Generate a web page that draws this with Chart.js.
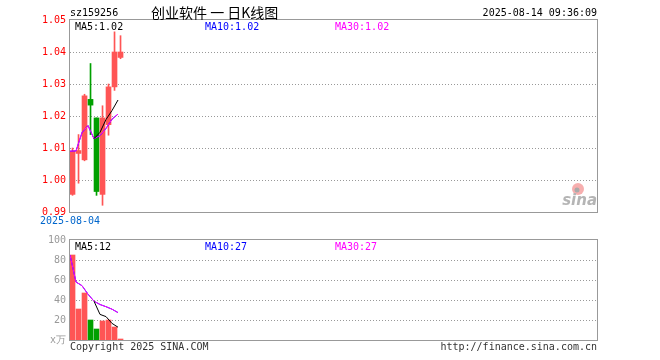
<!DOCTYPE html>
<html>
<head>
<meta charset="utf-8">
<script src="https://cdn.jsdelivr.net/npm/chart.js@4.4.1/dist/chart.umd.min.js"></script>
<style>
body{margin:0;background:#fff}
#wrap{position:relative;width:660px;height:360px}
canvas{position:absolute;left:0}
</style>
</head>
<body>
<div id="wrap">
<canvas id="kline" width="660" height="230" style="top:0"></canvas>
<canvas id="vol" width="660" height="130" style="top:230px"></canvas>
</div>
<script>
const symbol = "sz159256";
const title = "创业软件 一 日K线图";
const stamp = "2025-08-14 09:36:09";

const dates  = ["2025-08-04","2025-08-05","2025-08-06","2025-08-07","2025-08-08","2025-08-11","2025-08-12","2025-08-13","2025-08-14"];
const opens  = [0.9955, 1.0083, 1.0063, 1.0252, 1.0194, 0.9955, 1.0173, 1.0291, 1.0383];
const closes = [1.0090, 1.0092, 1.0263, 1.0234, 0.9964, 1.0194, 1.0291, 1.0400, 1.0400];
const highs  = [1.0100, 1.0142, 1.0268, 1.0364, 1.0194, 1.0232, 1.0300, 1.0463, 1.0451];
const lows   = [0.9952, 0.9990, 1.0060, 1.0142, 0.9952, 0.9921, 1.0140, 1.0280, 1.0379];
const ma5    = [null, null, null, null, 1.0129, 1.0149, 1.0189, 1.0217, 1.0250];
const ma10   = [1.0090, 1.0091, 1.0148, 1.0170, 1.0129, 1.0139, 1.0161, 1.0190, 1.0206];
const ma30   = [1.0090, 1.0091, 1.0148, 1.0170, 1.0129, 1.0139, 1.0161, 1.0190, 1.0206];

const volumes = [85, 31, 47, 20, 11, 19, 20, 13, 1];
const volMa5  = [null, null, null, null, 38.8, 25.6, 23.4, 16.6, 12.8];
const volMa10 = [85, 58, 54.3, 45.8, 38.8, 35.5, 33.3, 30.8, 27.4];
const volMa30 = [85, 58, 54.3, 45.8, 38.8, 35.5, 33.3, 30.8, 27.4];

const priceTicks = [0.99, 1.00, 1.01, 1.02, 1.03, 1.04, 1.05];
const volTicks   = [0, 20, 40, 60, 80, 100];

const RED = "#ff5555", GREEN = "#00a000";
const MONO = "'DejaVu Sans Mono', monospace";
const SLOTS = 527/6;   // 6px per trading day inside the frame
const MID = 0.42;      // candle centre inside its slot

const up = closes.map((c,i)=> c >= opens[i]);
const colors = up.map(u=> u ? RED : GREEN);
const trunc = (v,d)=> (Math.floor(v*Math.pow(10,d)+1e-9)/Math.pow(10,d)).toFixed(d);

// frame + dotted grid drawn under the marks, texts on top
function framePlugin(drawText){
    return {
        id:'frame',
        beforeDatasetsDraw(chart){
            const a = chart.chartArea, c = chart.ctx, ys = chart.scales.y;
            c.save();
            c.strokeStyle = "#999";
            c.lineWidth = 1;
            c.setLineDash([1,2]);
            ys.ticks.slice(1,-1).forEach(t=>{
                const y = Math.round(ys.getPixelForValue(t.value)) + 0.5;
                c.beginPath(); c.moveTo(a.left, y); c.lineTo(a.right, y); c.stroke();
            });
            c.setLineDash([]);
            c.strokeRect(a.left-0.5, a.top-0.5, a.right-a.left+1, a.bottom-a.top+1);
            c.restore();
        },
        afterDraw(chart){
            const c = chart.ctx;
            c.save();
            c.textBaseline = "middle";
            drawText(c, chart);
            c.restore();
        }
    };
}

function xScale(){
    return { type:'linear', min:0, max:SLOTS, offset:false, display:false };
}

function yScale(ticks, color, fmt){
    return {
        min: ticks[0], max: ticks[ticks.length-1],
        afterFit: s => { s.width = 70; },
        afterBuildTicks: s => { s.ticks = ticks.map(v=>({value:v})); },
        border:{ display:false },
        grid:{ display:false, drawTicks:false },
        ticks:{ color, padding:4, font:{ family:MONO, size:10 }, callback: fmt }
    };
}

function lineSet(data, color, order){
    return {
        type:'line',
        data: data.map((v,i)=>({x:i, y:v})),
        borderColor: color, borderWidth:1,
        pointRadius:0, tension:0, spanGaps:false, order
    };
}

// ---- K line chart ----
new Chart(document.getElementById("kline"), {
    type:'bar',
    data:{
        datasets:[
            lineSet(ma10, "#0000ff", 0.6),
            lineSet(ma30, "#ff00ff", 0.5),
            lineSet(ma5, "#000000", 0.4),
            {
                data: dates.map((d,i)=>({x:i+MID, y:[lows[i], highs[i]]})),
                backgroundColor: colors, barThickness:1, grouped:false, order:2
            },
            {
                data: dates.map((d,i)=>({x:i+MID, y:[opens[i], closes[i]]})),
                backgroundColor: colors, barThickness:5, grouped:false, order:1
            }
        ]
    },
    options:{
        responsive:false, animation:false, events:[],
        layout:{ padding:{ left:0, right:63, top:20, bottom:18 } },
        plugins:{ legend:{display:false}, tooltip:{enabled:false} },
        scales:{
            x: xScale(),
            y: yScale(priceTicks, "#ff0000", v => v.toFixed(2))
        }
    },
    plugins:[framePlugin((c, chart)=>{
        const a = chart.chartArea;
        c.font = "10px " + MONO;
        c.fillStyle = "#000";
        c.textAlign = "left";
        c.fillText(symbol, 70, 13);
        c.textAlign = "right";
        c.fillText(stamp, 597, 13);
        c.textAlign = "left";
        c.font = "14px 'Noto Sans CJK SC'";
        c.fillText(title, 151, 13);

        c.font = "10px " + MONO;
        const n = dates.length - 1;
        c.fillStyle = "#000";    c.fillText("MA5:"  + trunc(ma5[n],2), 75, a.top+7);
        c.fillStyle = "#0000ff"; c.fillText("MA10:" + trunc(ma10[n],2), 205, a.top+7);
        c.fillStyle = "#ff00ff"; c.fillText("MA30:" + trunc(ma30[n],2), 335, a.top+7);

        c.fillStyle = "#0066cc";
        c.textAlign = "center";
        c.fillText(dates[0], a.left, a.bottom+9);

        // sina watermark
        c.fillStyle = "rgba(240,110,110,0.55)";
        c.beginPath(); c.arc(578, 189, 6, 0, Math.PI*2); c.fill();
        c.fillStyle = "#aaa";
        c.beginPath(); c.arc(577, 190, 2.5, 0, Math.PI*2); c.fill();
        c.font = "italic bold 15px 'DejaVu Sans'";
        c.fillStyle = "#b5b5b5";
        c.textAlign = "right";
        c.fillText("sina", 597, 201);
    })]
});

// ---- volume chart ----
new Chart(document.getElementById("vol"), {
    type:'bar',
    data:{
        datasets:[
            lineSet(volMa10, "#0000ff", 0.6),
            lineSet(volMa30, "#ff00ff", 0.5),
            lineSet(volMa5, "#000000", 0.4),
            {
                data: volumes.map((v,i)=>({x:i+MID, y:v})),
                backgroundColor: colors, barThickness:5, grouped:false, order:1
            }
        ]
    },
    options:{
        responsive:false, animation:false, events:[],
        layout:{ padding:{ left:0, right:63, top:10, bottom:20 } },
        plugins:{ legend:{display:false}, tooltip:{enabled:false} },
        scales:{
            x: xScale(),
            y: yScale(volTicks, "#999", v => v===0 ? "x万" : v)
        }
    },
    plugins:[framePlugin((c, chart)=>{
        const a = chart.chartArea;
        const n = volumes.length - 1;
        c.font = "10px " + MONO;
        c.textAlign = "left";
        c.fillStyle = "#000";    c.fillText("MA5:"  + trunc(volMa5[n],0), 75, a.top+7);
        c.fillStyle = "#0000ff"; c.fillText("MA10:" + trunc(volMa10[n],0), 205, a.top+7);
        c.fillStyle = "#ff00ff"; c.fillText("MA30:" + trunc(volMa30[n],0), 335, a.top+7);
        c.fillStyle = "#333";
        c.fillText("Copyright 2025 SINA.COM", 70, a.bottom+7);
        c.textAlign = "right";
        c.fillText("http://finance.sina.com.cn", 597, a.bottom+7);
    })]
});
</script>
</body>
</html>
